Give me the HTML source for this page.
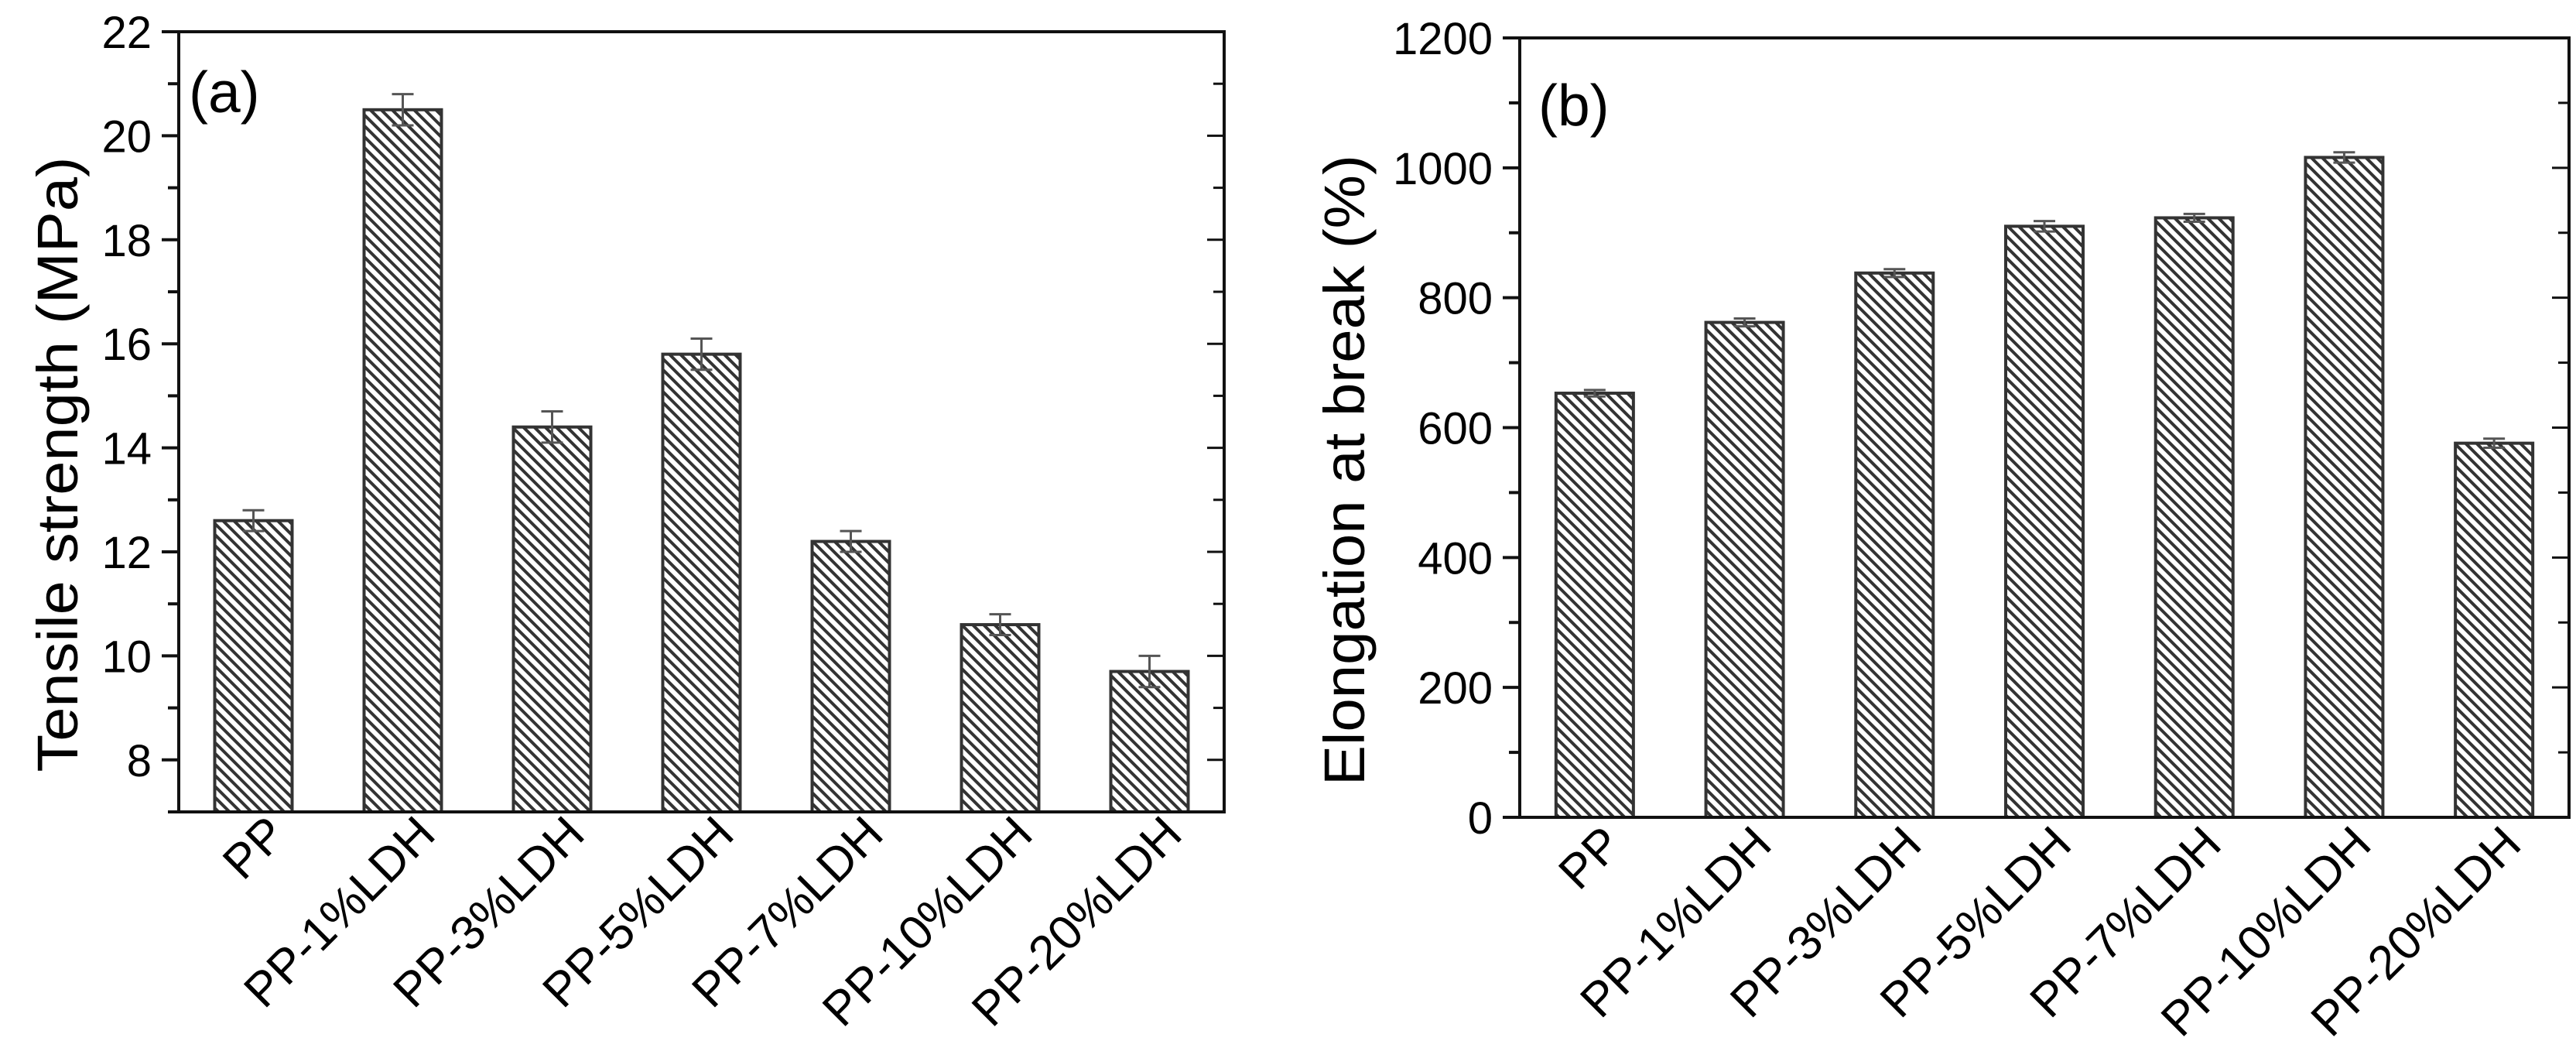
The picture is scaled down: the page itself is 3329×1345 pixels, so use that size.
<!DOCTYPE html>
<html><head><meta charset="utf-8"><style>
html,body{margin:0;padding:0;background:#fff;}
svg{display:block;font-family:"Liberation Sans",Arial,sans-serif;}
</style></head><body>
<svg id="fig" width="3329" height="1345" viewBox="0 0 3329 1345">
<defs>
<pattern id="hatch" patternUnits="userSpaceOnUse" width="10" height="10" patternTransform="rotate(45)">
<rect width="10" height="10" fill="#fff"/>
<rect x="0" y="0" width="10" height="4" fill="#333"/>
</pattern>
</defs>
<g id="chartA"></g>
<g id="chartB"></g>
</svg>
<script>
const categories = ["PP","PP-1%LDH","PP-3%LDH","PP-5%LDH","PP-7%LDH","PP-10%LDH","PP-20%LDH"];
const tensileValues = [12.6,20.5,14.4,15.8,12.2,10.6,9.7];
const tensileErrors = [0.2,0.3,0.3,0.3,0.2,0.2,0.3];
const tensileTicks = [8,10,12,14,16,18,20,22];
const elongValues = [653,762,838,910,923,1016,576];
const elongErrors = [5,6,6,8,6,8,7];
const elongTicks = [0,200,400,600,800,1000,1200];

const NS="http://www.w3.org/2000/svg";
function mk(parent,tag,attrs){const e=document.createElementNS(NS,tag);for(const k in attrs)e.setAttribute(k,attrs[k]);parent.appendChild(e);return e;}

function drawChart(g,cfg){
  const {x0,x1,yTop,yBot,vmin,vmax,values,errors,ticks,minorStep,title,titleX,titleLen,panel,panelX,panelY,labDx,labDy}=cfg;
  const ys=v=>yBot-(v-vmin)/(vmax-vmin)*(yBot-yTop);
  const slot=(x1-x0)/7;
  const xs=i=>x0+slot*(i+0.5);
  const bw=100;
  values.forEach((v,i)=>{
    const r=mk(g,'rect',{x:xs(i)-bw/2,y:ys(v),width:bw,height:yBot-ys(v),fill:'url(#hatch)',stroke:'#333','stroke-width':4});
    
    
    const e=mk(g,'path',{d:`M${xs(i)} ${ys(v+errors[i])}V${ys(v-errors[i])}M${xs(i)-14} ${ys(v+errors[i])}H${xs(i)+14}M${xs(i)-14} ${ys(v-errors[i])}H${xs(i)+14}`,stroke:'#555','stroke-width':3,fill:'none'});
    
    
    const t=mk(g,'text',{x:0,y:0,'font-size':62,'text-anchor':'end',transform:`translate(${xs(i)+labDx},${yBot+labDy}) rotate(-45)`});
    t.textContent=categories[i];
    
    
  });
  const f=mk(g,'rect',{x:x0,y:yTop,width:x1-x0,height:yBot-yTop,fill:'none',stroke:'#111','stroke-width':4});
  
  
  for(let v=vmin;v<=vmax+1e-9;v+=minorStep){
    const major=ticks.includes(Math.round(v*100)/100);
    const len=major?22:14;
    mk(g,'line',{x1:x0-len,x2:x0,y1:ys(v),y2:ys(v),stroke:'#111','stroke-width':4});
    mk(g,'line',{x1:x1,x2:x1-len,y1:ys(v),y2:ys(v),stroke:'#111','stroke-width':3});
  }
  ticks.forEach(v=>{
    const t=mk(g,'text',{x:x0-35,y:ys(v)+21,'font-size':58,'text-anchor':'end'});
    t.textContent=v;
    
    
  });
  const yt=mk(g,'text',{x:0,y:0,'font-size':74,'text-anchor':'middle',textLength:titleLen,lengthAdjust:'spacingAndGlyphs',transform:`translate(${titleX},${(yTop+yBot)/2+55}) rotate(-90)`});
  yt.textContent=title;
  
  
  const p=mk(g,'text',{x:panelX,y:panelY,'font-size':75});
  p.textContent=panel;
  
  
}
drawChart(document.getElementById('chartA'),{x0:231,x1:1582,yTop:41,yBot:1049,vmin:7,vmax:22,values:tensileValues,errors:tensileErrors,ticks:tensileTicks,minorStep:1,title:"Tensile strength (MPa)",titleX:100,titleLen:795,panel:"(a)",panelX:244,panelY:145,labDx:45,labDy:32});
drawChart(document.getElementById('chartB'),{x0:1964,x1:3320,yTop:49,yBot:1056,vmin:0,vmax:1200,values:elongValues,errors:elongErrors,ticks:elongTicks,minorStep:100,title:"Elongation at break (%)",titleX:1763,titleLen:815,panel:"(b)",panelX:1988,panelY:162,labDx:38,labDy:38});
</script>
</body></html>
